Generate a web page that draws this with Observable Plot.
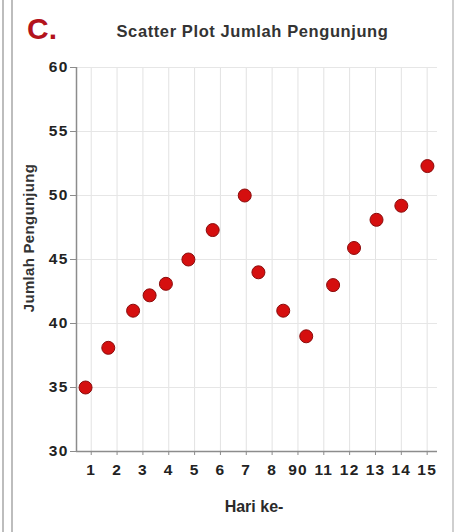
<!DOCTYPE html>
<html>
<head>
<meta charset="utf-8">
<script src="https://cdn.jsdelivr.net/npm/d3@7"></script>
<script src="https://cdn.jsdelivr.net/npm/@observablehq/plot@0.6"></script>
<style>
  html, body { margin: 0; padding: 0; background: #fff; }
  #wrap { position: relative; width: 455px; height: 532px; overflow: hidden; font-family: "Liberation Sans", Arial, sans-serif; }
  .edge { position: absolute; top: 0; bottom: 0; width: 2px; background: #bdbdbd; }
  #letter { position: absolute; left: 27px; top: 14px; font-size: 30px; font-weight: bold; color: #b3131c; line-height: 1; }
  #title { position: absolute; left: 0; width: 505px; top: 23px; text-align: center; font-size: 16.5px; font-weight: bold; color: #333; line-height: 1; letter-spacing: 0.6px; }
  #ylabel { position: absolute; left: 28px; top: 238px; transform: translate(-50%, -50%) rotate(-90deg); white-space: nowrap; font-size: 15px; font-weight: bold; color: #333; line-height: 1; letter-spacing: 0.3px; }
  #chart { position: absolute; left: 0; top: 50px; }
  #chart svg g[aria-label$="tick label"] text { font-size: 15.5px; font-weight: bold; letter-spacing: 1.2px; }
</style>
</head>
<body>
<div id="wrap">
  <div class="edge" style="left:2px"></div>
  <div class="edge" style="left:11px"></div>
  <div class="edge" style="left:452px; background:#cfcfcf"></div>
  <div id="letter">C.</div>
  <div id="title">Scatter Plot Jumlah Pengunjung</div>
  <div id="chart"></div>
  <div id="ylabel">Jumlah Pengunjung</div>
</div>
<script>
// Tick positions and labels along the x axis (as printed in the reference)
const xTicks = [1, 2, 3, 4, 5, 6, 7, 8, 9, 10, 11, 12, 13, 14];
const xTickLabels = ["1", "2", "3", "4", "5", "6", "7", "8", "90", "11", "12", "13", "14", "15"];
// Point positions along the x axis (in tick units)
const hariPos = [0.78, 1.66, 2.62, 3.26, 3.89, 4.76, 5.70, 6.94, 7.47, 8.43, 9.32, 10.36, 11.17, 12.04, 13.0, 14.01];
// Jumlah pengunjung
const jumlah = [35, 38.1, 41, 42.2, 43.1, 45, 47.3, 50, 44, 41, 39, 43, 45.9, 48.1, 49.2, 52.3];
const yTicks = [30, 35, 40, 45, 50, 55, 60];

const data = hariPos.map((x, i) => ({x, y: jumlah[i]}));
const xDomain = [0.43, 14.4];

const chart = Plot.plot({
  width: 455,
  height: 470,
  marginLeft: 76,
  marginRight: 18,
  marginTop: 17,
  marginBottom: 69,
  style: {fontFamily: "'Liberation Sans', Arial, sans-serif", background: "transparent"},
  x: {domain: xDomain},
  y: {domain: [30, 60]},
  marks: [
    Plot.gridX(xTicks, {stroke: "#e2e2e2", strokeOpacity: 1}),
    Plot.gridY(yTicks, {stroke: "#e6e6e6", strokeOpacity: 1}),
    Plot.ruleY([30], {stroke: "#8c8c8c", strokeWidth: 1.5}),
    Plot.ruleX([xDomain[0]], {stroke: "#8c8c8c", strokeWidth: 1.5}),
    Plot.axisY(yTicks, {
      tickSize: 6, tickPadding: 2, stroke: "#8c8c8c",
      fontWeight: "bold", fill: "#222",
      label: null
    }),
    Plot.axisX(xTicks, {
      tickSize: 4, tickPadding: 8, stroke: "#8c8c8c",
      tickFormat: (d, i) => xTickLabels[i],
      fontWeight: "bold", fill: "#222",
      label: null
    }),
    Plot.text(["Hari ke-"], {
      frameAnchor: "bottom", dy: 60, dx: -3,
      fontSize: 16, fontWeight: "bold", fill: "#2a2a2a"
    }),
    Plot.dot(data, {
      x: "x", y: "y", r: 6.5,
      fill: "#d50f0f", stroke: "#8a0c0c", strokeWidth: 1
    })
  ]
});
document.getElementById("chart").appendChild(chart);
</script>
</body>
</html>
